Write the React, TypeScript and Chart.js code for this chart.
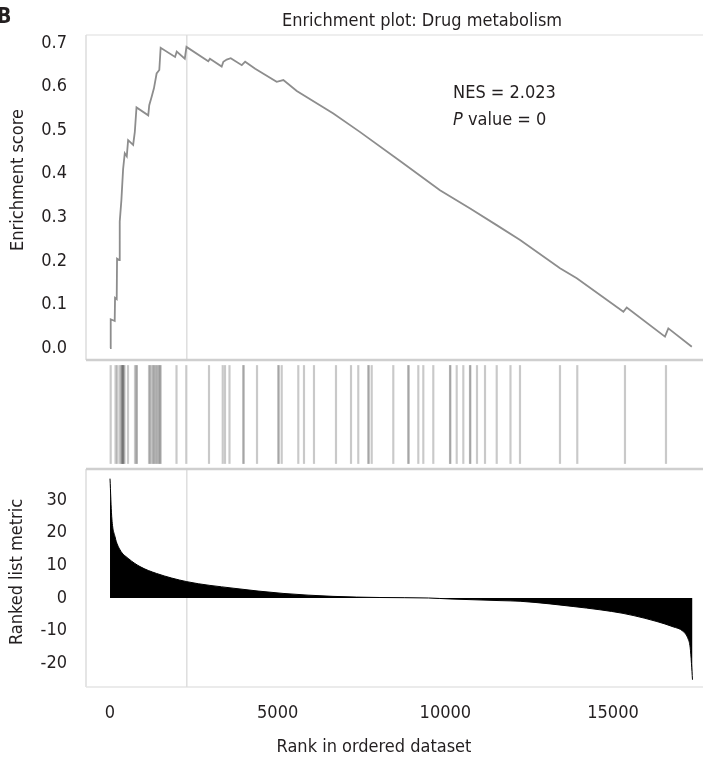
import React, { useEffect, useRef } from 'react';
import { Chart, registerables } from 'chart.js';

Chart.register(...registerables);

// ---- data ----
const rankTicks = [0, 5000, 10000, 15000];
const esTicks = [0, 0.1, 0.2, 0.3, 0.4, 0.5, 0.6, 0.7];
const metricTicks = [-20, -10, 0, 10, 20, 30];

const esRanks = [0, 20, 22, 140, 150, 200, 210, 270, 290, 340, 390, 440, 500, 540, 690, 740, 790, 1140, 1170, 1240, 1310, 1390, 1470, 1510, 1940, 1990, 2230, 2280, 2930, 2980, 3330, 3380, 3480, 3600, 3930, 4030, 4330, 4970, 5170, 5570, 6660, 7450, 8650, 9840, 10740, 11530, 12230, 13420, 13920, 15310, 15410, 16550, 16650, 17350];
const esValues = [0.0, 0.0, 0.066, 0.062, 0.115, 0.112, 0.205, 0.202, 0.29, 0.34, 0.41, 0.447, 0.44, 0.477, 0.466, 0.496, 0.552, 0.534, 0.557, 0.576, 0.596, 0.63, 0.638, 0.689, 0.668, 0.68, 0.664, 0.691, 0.658, 0.664, 0.646, 0.657, 0.662, 0.665, 0.649, 0.657, 0.641, 0.611, 0.615, 0.59, 0.538, 0.496, 0.429, 0.362, 0.32, 0.282, 0.248, 0.183, 0.16, 0.083, 0.093, 0.026, 0.045, 0.003];

const hitRanks = [20, 164, 209, 283, 328, 358, 370, 379, 390, 403, 432, 537, 745, 790, 800,
  1163, 1190, 1237, 1280, 1312, 1350, 1387, 1420, 1461, 1490, 1512,
  1983, 2275, 2952, 3361, 3429, 3563, 3975, 3985, 4384, 5019, 5030, 5120, 5615, 5785, 6083, 6739, 7187, 7404, 7703, 7715, 7804, 8448, 8895, 8905, 9194, 9343, 9641, 10139, 10150, 10339, 10536, 10735, 10746, 10944, 11183, 11532, 11943, 12226, 13419, 13935, 15357, 16580];

const metricRanks = [0, 50, 150, 300, 545, 895, 1390, 2290, 3670, 5160, 6650, 8050, 9500, 10140, 11630, 12230, 13120, 13810, 14610, 15300, 15950, 16310, 16790, 17090, 17240, 17300, 17340, 17370];
const metricValues = [36.5, 25, 18.7, 14.7, 12.1, 9.6, 7.5, 5.0, 3.0, 1.4, 0.5, 0.15, 0, -0.3, -0.8, -1.0, -1.8, -2.6, -3.6, -4.7, -6.2, -7.2, -8.8, -10.2, -12.5, -15, -20, -25];

const peakRank = 2290;
const panelLabel = 'B';
const chartTitle = 'Enrichment plot: Drug metabolism';
const nesLabel = 'NES = 2.023';
const pLabel = 'P';
const pRest = ' value = 0';
const yTitleES = 'Enrichment score';
const yTitleMetric = 'Ranked list metric';
const xTitle = 'Rank in ordered dataset';

const FONT = '"DejaVu Sans Condensed", "DejaVu Sans", sans-serif';
const TXT = '#231f20';

function hline(ctx: CanvasRenderingContext2D, x1: number, y1: number, x2: number, y2: number, color: string, w: number) {
  ctx.beginPath();
  ctx.strokeStyle = color;
  ctx.lineWidth = w;
  ctx.moveTo(x1, y1);
  ctx.lineTo(x2, y2);
  ctx.stroke();
}

const decor = {
  id: 'decor',
  beforeDatasetsDraw(chart: any) {
    const { ctx, chartArea, scales } = chart;
    const x = scales.x, yE = scales.yES, yM = scales.yMetric;
    const L = chartArea.left;
    ctx.save();
    hline(ctx, L, yE.top, chart.width, yE.top, '#e9e9e9', 1.5);
    hline(ctx, L, yE.top, L, yE.bottom, '#dddddd', 1.5);
    hline(ctx, L, yM.top, L, yM.bottom, '#dddddd', 1.5);
    hline(ctx, L, yM.bottom, chart.width, yM.bottom, '#e4e4e4', 1.5);
    const px = x.getPixelForValue(peakRank);
    hline(ctx, px, yE.top, px, yE.bottom, '#dedede', 1.5);
    hline(ctx, px, yM.top, px, yM.bottom, '#dedede', 1.5);
    hline(ctx, L, yE.bottom, chart.width, yE.bottom, '#cfcfcf', 2.5);
    hline(ctx, L, yM.top, chart.width, yM.top, '#cfcfcf', 2.5);
    ctx.restore();
  },
  afterDraw(chart: any) {
    const { ctx, chartArea, scales } = chart;
    const x = scales.x, yE = scales.yES;
    ctx.save();
    ctx.fillStyle = TXT;
    ctx.textBaseline = 'alphabetic';
    ctx.textAlign = 'left';
    ctx.font = `bold 21px ${FONT}`;
    ctx.fillText(panelLabel, -3, 23);

    ctx.font = `18px ${FONT}`;
    ctx.textAlign = 'center';
    ctx.fillText(chartTitle, chartArea.left + 336, 26);

    ctx.textAlign = 'left';
    ctx.textBaseline = 'middle';
    const nx = x.getPixelForValue(10230);
    ctx.fillText(nesLabel, nx, yE.getPixelForValue(0.585));
    const py = yE.getPixelForValue(0.523);
    ctx.font = `italic 18px ${FONT}`;
    ctx.fillText(pLabel, nx, py);
    const pw = ctx.measureText(pLabel).width;
    ctx.font = `18px ${FONT}`;
    ctx.fillText(pRest, nx + pw, py);

    ctx.textAlign = 'center';
    ctx.fillText(xTitle, 374, 747);

    ctx.save();
    ctx.translate(18.5, 180);
    ctx.rotate(-Math.PI / 2);
    ctx.fillText(yTitleES, 0, 0);
    ctx.restore();
    ctx.save();
    ctx.translate(17.5, 572);
    ctx.rotate(-Math.PI / 2);
    ctx.fillText(yTitleMetric, 0, 0);
    ctx.restore();
    ctx.restore();
  },
};

export default function App() {
  const ref = useRef<HTMLCanvasElement | null>(null);
  useEffect(() => {
    document.body.style.margin = '0';
    const canvas = ref.current;
    if (!canvas) return;
    const tickFont = { family: FONT, size: 18 };
    const chart = new Chart(canvas, {
      type: 'line',
      data: {
        datasets: [
          {
            type: 'line',
            label: 'ES',
            data: esRanks.map((r, i) => ({ x: r, y: esValues[i] })),
            xAxisID: 'x',
            yAxisID: 'yES',
            borderColor: '#8d8d8d',
            borderWidth: 1.8,
            pointRadius: 0,
            tension: 0,
            fill: false,
          } as any,
          {
            type: 'bar',
            label: 'hits',
            data: hitRanks.map((r) => ({ x: r, y: [0.05, 0.95] })),
            xAxisID: 'x',
            yAxisID: 'yHits',
            backgroundColor: 'rgba(90,90,90,0.33)',
            borderWidth: 0,
            barThickness: 1.5,
          } as any,
          {
            type: 'line',
            label: 'metric',
            data: metricRanks.map((r, i) => ({ x: r, y: metricValues[i] })),
            xAxisID: 'x',
            yAxisID: 'yMetric',
            borderColor: '#000000',
            backgroundColor: '#000000',
            borderWidth: 1,
            pointRadius: 0,
            cubicInterpolationMode: 'monotone',
            fill: 'origin',
          } as any,
        ],
      },
      options: {
        animation: false,
        responsive: false,
        devicePixelRatio: 1,
        layout: { padding: { left: 0, right: 6, top: 35, bottom: 0 } },
        plugins: { legend: { display: false }, tooltip: { enabled: false }, title: { display: false } },
        scales: {
          x: {
            type: 'linear',
            position: 'bottom',
            min: -716,
            max: 17505,
            offset: false,
            grid: { display: false, drawTicks: false },
            border: { display: false },
            ticks: { font: tickFont, color: TXT, padding: 16, maxRotation: 0, autoSkip: false, callback: (v: any) => String(v) },
            afterBuildTicks: (s: any) => { s.ticks = rankTicks.map((v) => ({ value: v })); },
            afterFit: (s: any) => { s.height = 73; },
          },
          yES: {
            type: 'linear',
            position: 'left',
            stack: 'gsea',
            stackWeight: 325,
            weight: 3,
            min: -0.0275,
            max: 0.7183,
            grid: { display: false, drawTicks: false },
            border: { display: false },
            ticks: { font: tickFont, color: TXT, padding: 19, autoSkip: false, callback: (v: any) => Number(v).toFixed(1) },
            afterBuildTicks: (s: any) => { s.ticks = esTicks.map((v) => ({ value: v })); },
            afterFit: (s: any) => { s.width = 86; },
          },
          yHits: {
            type: 'linear',
            position: 'left',
            stack: 'gsea',
            stackWeight: 109,
            weight: 2,
            min: 0,
            max: 1,
            grid: { display: false, drawTicks: false },
            border: { display: false },
            ticks: { display: false },
            afterFit: (s: any) => { s.width = 86; },
          },
          yMetric: {
            type: 'linear',
            position: 'left',
            stack: 'gsea',
            stackWeight: 218,
            weight: 1,
            min: -27.22,
            max: 39.45,
            grid: { display: false, drawTicks: false },
            border: { display: false },
            ticks: { font: tickFont, color: TXT, padding: 19, autoSkip: false, callback: (v: any) => String(v) },
            afterBuildTicks: (s: any) => { s.ticks = metricTicks.map((v) => ({ value: v })); },
            afterFit: (s: any) => { s.width = 86; },
          },
        },
      } as any,
      plugins: [decor],
    });
    return () => chart.destroy();
  }, []);
  return <canvas ref={ref} width={703} height={760} style={{ display: 'block', width: 703, height: 760 }} />;
}
